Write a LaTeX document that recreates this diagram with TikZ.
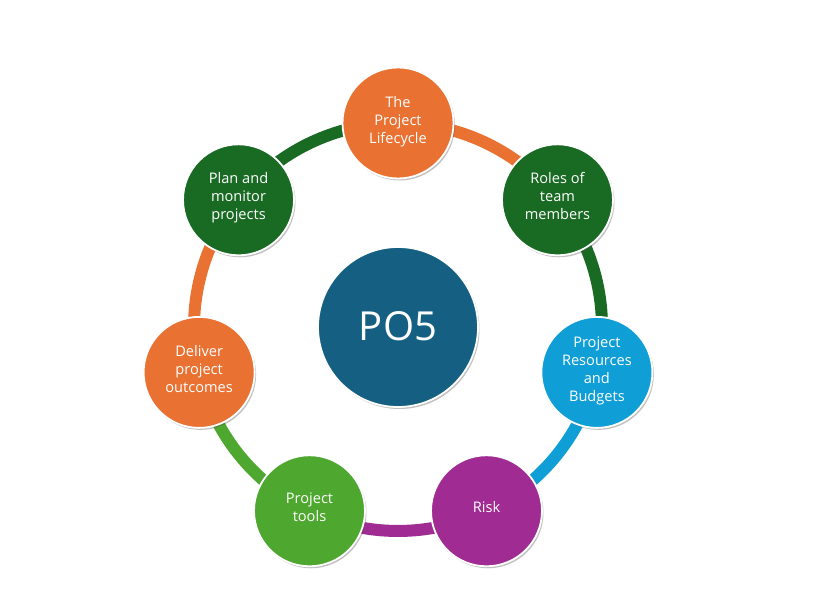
\documentclass[tikz,border=0pt]{standalone}
\usepackage{fontspec}
\setmainfont{Open Sans}
\usetikzlibrary{shadows,calc}
\definecolor{cOrange}{HTML}{E97132}
\definecolor{cDGreen}{HTML}{196B24}
\definecolor{cBlue}{HTML}{0F9ED5}
\definecolor{cPurple}{HTML}{A02B93}
\definecolor{cLGreen}{HTML}{4EA72E}
\definecolor{cCenter}{HTML}{156082}
\tikzset{
  ball/.style={circle, minimum size=111pt, inner sep=0pt, draw=white, line width=1.8pt,
    text=white, align=center, font=\fontsize{14.6}{18}\selectfont, text depth=7pt,
    drop shadow={shadow xshift=1.5pt, shadow yshift=-2pt, opacity=0.35, fill=black!70}},
  hub/.style={ball, minimum size=160pt, font=\fontsize{40}{44}\selectfont, text depth=2pt},
  band/.style={line width=12pt}
}
\begin{document}
\begin{tikzpicture}[x=1pt,y=1pt]
\useasboundingbox (0,0) rectangle (814,610);
\coordinate (c) at (398,283);
% bands
\foreach \a/\col in {90/cOrange, 38.571/cDGreen, -12.857/cBlue, -64.286/cPurple, -115.714/cLGreen, -167.143/cOrange, 141.429/cDGreen}{
  \draw[band, \col] ($(c)+(\a:204)$) arc[start angle=\a, delta angle=-51.43, radius=204];
}
\node[hub, fill=cCenter] (po5) at (c) {PO5};
\node[ball, fill=cOrange] (life) at ($(c)+(90:204)$) {The\\Project\\Lifecycle};
\node[ball, fill=cDGreen] (roles) at ($(c)+(38.571:204)$) {Roles of\\team\\members};
\node[ball, fill=cBlue] (res) at ($(c)+(-12.857:204)$) {Project\\Resources\\and\\Budgets};
\node[ball, fill=cPurple] (risk) at ($(c)+(-64.286:204)$) {Risk};
\node[ball, fill=cLGreen] (tools) at ($(c)+(-115.714:204)$) {Project\\tools};
\node[ball, fill=cOrange] (deliver) at ($(c)+(-167.143:204)$) {Deliver\\project\\outcomes};
\node[ball, fill=cDGreen] (plan) at ($(c)+(141.429:204)$) {Plan and\\monitor\\projects};
\end{tikzpicture}
\end{document}
